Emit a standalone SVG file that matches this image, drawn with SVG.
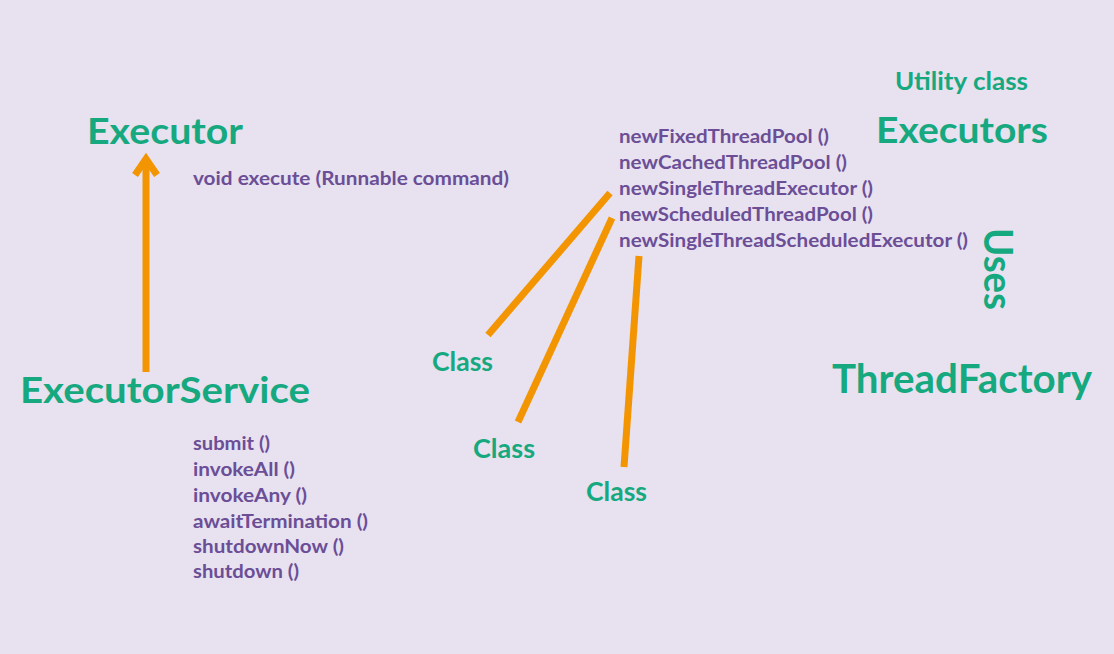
<svg xmlns="http://www.w3.org/2000/svg" width="1114" height="654" viewBox="0 0 1114 654">
<style>
.h{font-family:Lato,"Noto Sans",sans-serif;font-weight:700;fill:#16A97F}
.m{font-family:Lato,"Noto Sans",sans-serif;font-weight:700;fill:#6B4E96;font-size:18px}
.c{stroke:#F39500;stroke-width:7;fill:none}
</style>
<rect width="1114" height="654" fill="#E7E1F0"/>
<g id="connectors">
<line class="c" x1="146" y1="372" x2="146" y2="158"/>
<polyline class="c" points="135,175 146,159 157,175"/>
<line class="c" x1="610" y1="193" x2="488" y2="335"/>
<line class="c" x1="612" y1="218" x2="518" y2="422"/>
<line class="c" x1="639" y1="256" x2="624" y2="467"/>
</g>
<g id="executor">
<text class="h" x="87" y="144" font-size="36" textLength="156" lengthAdjust="spacingAndGlyphs">Executor</text>
<text class="m" x="193" y="185" textLength="316" lengthAdjust="spacingAndGlyphs">void execute (Runnable command)</text>
</g>
<g id="executorService">
<text class="h" x="20" y="403" font-size="36" textLength="290" lengthAdjust="spacingAndGlyphs">ExecutorService</text>
<text class="m" x="193" y="450" textLength="77" lengthAdjust="spacingAndGlyphs">submit ()</text>
<text class="m" x="193" y="476" textLength="102" lengthAdjust="spacingAndGlyphs">invokeAll ()</text>
<text class="m" x="193" y="502" textLength="114" lengthAdjust="spacingAndGlyphs">invokeAny ()</text>
<text class="m" x="193" y="528" textLength="175" lengthAdjust="spacingAndGlyphs">awaitTermination ()</text>
<text class="m" x="193" y="553" textLength="151" lengthAdjust="spacingAndGlyphs">shutdownNow ()</text>
<text class="m" x="193" y="578" textLength="106" lengthAdjust="spacingAndGlyphs">shutdown ()</text>
</g>
<g id="executors">
<text class="h" x="895" y="90" font-size="24" textLength="133" lengthAdjust="spacingAndGlyphs">Utility class</text>
<text class="h" x="876" y="143" font-size="36" textLength="172" lengthAdjust="spacingAndGlyphs">Executors</text>
<text class="m" x="619" y="143" textLength="210" lengthAdjust="spacingAndGlyphs">newFixedThreadPool ()</text>
<text class="m" x="619" y="169" textLength="228" lengthAdjust="spacingAndGlyphs">newCachedThreadPool ()</text>
<text class="m" x="619" y="195" textLength="254" lengthAdjust="spacingAndGlyphs">newSingleThreadExecutor ()</text>
<text class="m" x="619" y="221" textLength="254" lengthAdjust="spacingAndGlyphs">newScheduledThreadPool ()</text>
<text class="m" x="619" y="247" textLength="349" lengthAdjust="spacingAndGlyphs">newSingleThreadScheduledExecutor ()</text>
</g>
<g id="uses">
<text class="h" font-size="40" transform="translate(984,228) rotate(90)" textLength="82" lengthAdjust="spacingAndGlyphs">Uses</text>
</g>
<g id="threadFactory">
<text class="h" x="832" y="393" font-size="41" textLength="260" lengthAdjust="spacingAndGlyphs">ThreadFactory</text>
</g>
<g id="class1"><text class="h" x="432" y="371" font-size="26" textLength="61" lengthAdjust="spacingAndGlyphs">Class</text></g>
<g id="class2"><text class="h" x="473" y="458" font-size="26" textLength="62" lengthAdjust="spacingAndGlyphs">Class</text></g>
<g id="class3"><text class="h" x="586" y="501" font-size="26" textLength="61" lengthAdjust="spacingAndGlyphs">Class</text></g>
</svg>
